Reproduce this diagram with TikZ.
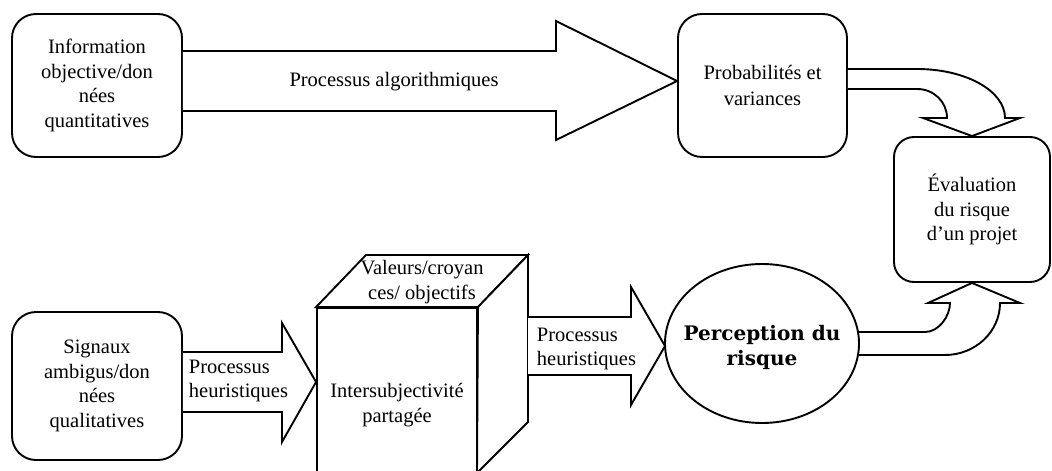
\documentclass[tikz,border=0pt]{standalone}
\usepackage{fontspec}
\setmainfont{Liberation Serif}
\newfontfamily\percfont{DejaVu Serif}
\usetikzlibrary{shapes.geometric}

\begin{document}
\begin{tikzpicture}[x=1pt, y=-1pt, line width=1.9pt,
  every node/.style={font=\fontsize{20.5}{24.5}\selectfont, inner sep=0pt},
  rbox/.style={draw, fill=white, rounded corners=24pt, align=center},
  blockarrow/.style={draw, fill=white, line join=miter},
  face/.style={draw, fill=white, line join=miter},
  lbl/.style={align=center},
  lbll/.style={align=left, anchor=west}]

\useasboundingbox (0,0) rectangle (1052,471);
\clip (0,0) rectangle (1052,471);

% boxes
\node[rbox, minimum width=170pt, minimum height=143pt] (info) at (97,85.5)
  {Information\\objective/don\\nées\\quantitatives};
\node[rbox, minimum width=169pt, minimum height=143pt] (prob) at (762.5,85.5)
  {\rule{0pt}{10pt}Probabilités et\\[2pt]variances};
\node[rbox, minimum width=156pt, minimum height=145pt, rounded corners=20pt] (eval) at (972,209.5)
  {Évaluation\\du risque\\d’un projet};
\node[rbox, minimum width=170pt, minimum height=148pt] (sig) at (97,386)
  {Signaux\\ambigus/don\\nées\\qualitatives};

% top block arrow
\draw[blockarrow] (info.east |- 0,51) -- (556,51) -- (556,21) -- (prob.west |- 0,81)
  -- (556,140) -- (556,111) -- (info.east |- 0,111);
\node[lbl] (algo) at (394,82) {Processus algorithmiques};

% curved arrow into the evaluation box from above
\draw[blockarrow] (prob.east |- 0,69) -- (917,69) .. controls (966,69) and (1005,91) .. (1005,118)
  -- (1020,118) -- (eval.north) -- (923,118) -- (947,118)
  .. controls (947,102) and (934,89) .. (917,89) -- (prob.east |- 0,89);

% shared intersubjectivity block
\node[face, minimum width=160pt, minimum height=194pt, align=center] (inter) at (397,405)
  {Intersubjectivité\\partagée};
\draw[face] (inter.north west) -- (366,255) -- (528,255) -- (inter.north east) -- cycle;
\draw[face] (inter.north east) -- (528,255) -- (528,422) -- (477,473) -- cycle;
\node[lbl] (valeurs) at (422,282) {Valeurs/croyan\\ces/ objectifs};

% arrow from qualitative signals
\draw[blockarrow] (sig.east |- 0,352) -- (282,352) -- (282,323) -- (inter.west |- 0,382)
  -- (282,442) -- (282,412) -- (sig.east |- 0,412);
\node[lbll] (heur1) at (188,381) {Processus\\heuristiques};

% curved arrow into the evaluation box from below
\draw[blockarrow] (850,332) -- (925,332) .. controls (939,332) and (950,316) .. (950,303)
  -- (928,303) -- (eval.south) -- (1020,303) -- (1000,303)
  .. controls (1000,332) and (975,355) .. (945,355) -- (850,355);

% arrow towards risk perception
\draw[blockarrow] (528,317) -- (631,317) -- (631,287) -- (665,346) -- (631,405)
  -- (631,375) -- (528,375);
\node[lbll] (heur2) at (536,349) {Processus\\heuristiques};

% risk perception ellipse with its caption laid over it
\node[draw, fill=white, ellipse, minimum width=194pt, minimum height=159pt] (perc) at (762,343.5) {};
\node[align=center, font=\percfont\bfseries\fontsize{20}{25}\selectfont] (perctext)
  at ([yshift=-4pt]perc.center) {Perception du\\risque};

\end{tikzpicture}
\end{document}
